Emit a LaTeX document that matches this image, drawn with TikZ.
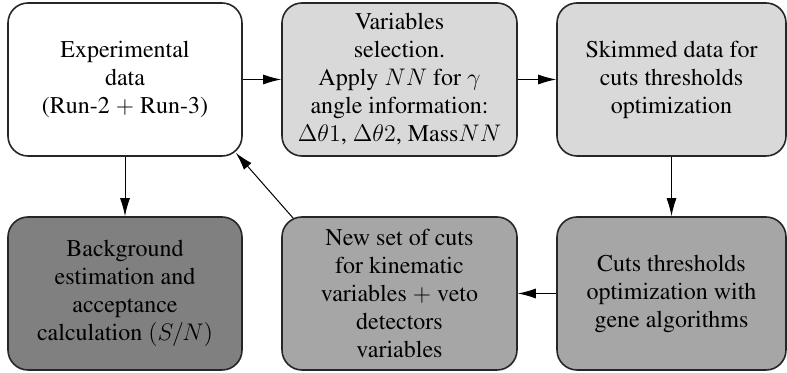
\documentclass[tikz,border=0pt]{standalone}
\usepackage[T1]{fontenc}
\usepackage{times}
\usetikzlibrary{arrows.meta}

\begin{document}
\begin{tikzpicture}[
	box/.style={draw=black!85, line width=0.8pt, rounded corners=10pt, align=center,
		inner sep=2pt, minimum height=76.5pt, font=\fontsize{12}{14}\selectfont},
	arr/.style={-{Latex[length=9pt,width=5pt]}, line width=0.5pt}
]
	\useasboundingbox (0,0) rectangle (393.5pt,186.5pt);

	% top row
	\node[box, fill=white, minimum width=117pt]		(0)	at (62.5pt, 146.75pt)	{Experimental\\data\\(Run-2 $+$ Run-3)};
	\node[box, fill=black!15, minimum width=117.5pt]	(1)	at (199.75pt, 146.75pt)	{Variables\\selection.\\Apply $NN$ for $\gamma$\\angle information:\\$\Delta\theta1$, $\Delta\theta2$, Mass$NN$};
	\node[box, fill=black!15, minimum width=114.5pt]	(2)	at (335.75pt, 146.75pt)	{Skimmed data for\\cuts thresholds\\optimization};

	% bottom row
	\node[box, fill=black!35, minimum width=114.5pt]	(3)	at (335.75pt, 39.75pt)	{Cuts thresholds\\optimization with\\gene algorithms};
	\node[box, fill=black!35, minimum width=117.5pt]	(4)	at (199.75pt, 39.75pt)	{New set of cuts\\for kinematic\\variables $+$ veto\\detectors\\variables};
	\node[box, fill=black!50, minimum width=117pt]		(5)	at (62.5pt, 39.75pt)	{Background\\estimation and\\acceptance\\calculation $(S/N)$};

	\draw[arr] (0) -- (1);
	\draw[arr] (1) -- (2);
	\draw[arr] (2) -- (3);
	\draw[arr] (3) -- (4);
	\draw[arr] (0) -- (5);
	\draw[arr] ([shift={(6pt,-1pt)}]4.north west) -- ([shift={(-3.5pt,2pt)}]0.south east);
\end{tikzpicture}
\end{document}
